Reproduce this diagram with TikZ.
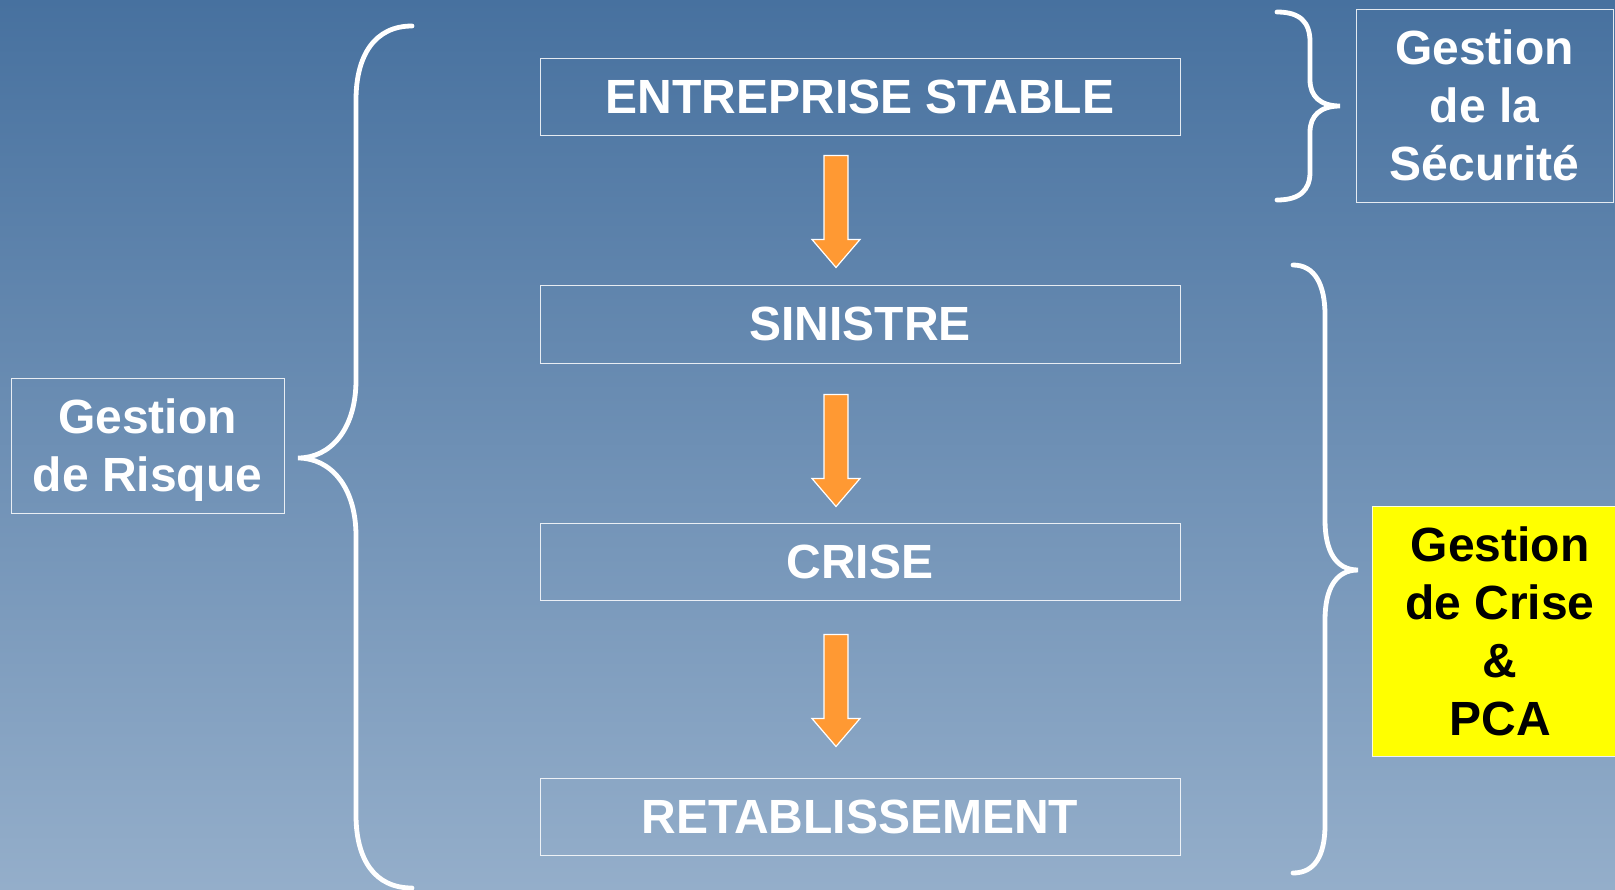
\documentclass[tikz,border=0pt]{standalone}
\usepackage{fontspec}
\setmainfont{Liberation Sans}
\usetikzlibrary{calc}
\definecolor{bgtop}{RGB}{71,113,159}
\definecolor{bgbot}{RGB}{148,174,202}
\definecolor{arroworange}{RGB}{255,153,51}
\definecolor{pcayellow}{RGB}{255,255,0}
\tikzset{
  bigtext/.style={font=\bfseries\fontsize{24}{29}\selectfont, text=white},
  stagebox/.style={bigtext, draw=white, draw opacity=0.85, line width=0.5pt, minimum width=320pt, minimum height=38.5pt, inner sep=0pt},
  sidebox/.style={bigtext, draw=white, draw opacity=0.85, line width=0.5pt, inner sep=0pt, align=center},
  bracestroke/.style={draw=white, line width=2.4pt, line cap=round},
  barrow/.style={fill=arroworange, draw=white, line width=0.6pt, line join=miter},
}
\newcommand{\stagearrow}[2]{\draw[barrow] ($(#1.south)+(-36,#2)$) -- ++(24,0) -- ++(0,84) -- ++(12,0) -- ++(-24,28) -- ++(-24,-28) -- ++(12,0) -- cycle;}
\begin{document}
\begin{tikzpicture}[x=0.5pt,y=-0.5pt]
\useasboundingbox (0,0) rectangle (1615,889);
\clip (0,0) rectangle (1615,889);
\shade[top color=bgtop, bottom color=bgbot] (0,0) rectangle (1615,889);

% stage boxes
\node[stagebox] (b1) at (860,96.5) {ENTREPRISE STABLE};
\node[stagebox, minimum height=39pt] (b2) at (860,324) {SINISTRE};
\node[stagebox] (b3) at (860,561.5) {CRISE};
\node[stagebox] (b4) at (860,816.5) {RETABLISSEMENT};

% arrows
\stagearrow{b1}{20}
\stagearrow{b2}{31}
\stagearrow{b3}{34}

% side boxes
\node[sidebox, minimum width=136.5pt, minimum height=67.5pt,
  label={[bigtext, align=center, yshift=-2.5pt]center:Gestion\\de Risque}] (risque) at (147.5,445.5) {};
\node[sidebox, minimum width=128.5pt, minimum height=96.5pt] (securite) at (1484.5,105.5) {Gestion\\de la\\Sécurité};
\node[sidebox, fill=pcayellow, text=black, minimum width=128pt, minimum height=125pt] (crise) at (1500,631) {Gestion\\de Crise\\\&\\PCA};

% braces
\draw[bracestroke] (412,26) .. controls (375,26) and (356,55) .. (356,100) -- (356,380)
  .. controls (356,430) and (330,458) .. (298,458)
  .. controls (330,458) and (356,486) .. (356,536) -- (356,815)
  .. controls (356,860) and (375,888) .. (412,888);
\draw[bracestroke] (1277,12) .. controls (1300,12) and (1310,22) .. (1310,42) -- (1310,80)
  .. controls (1310,96) and (1320,106) .. (1340,106)
  .. controls (1320,106) and (1310,116) .. (1310,132) -- (1310,172)
  .. controls (1310,190) and (1300,200) .. (1277,200);
\draw[bracestroke] (1293,265) .. controls (1315,265) and (1325,285) .. (1325,315) -- (1325,520)
  .. controls (1325,550) and (1335,570) .. (1358,570)
  .. controls (1335,570) and (1325,590) .. (1325,620) -- (1325,825)
  .. controls (1325,855) and (1315,873) .. (1293,873);
\end{tikzpicture}
\end{document}
